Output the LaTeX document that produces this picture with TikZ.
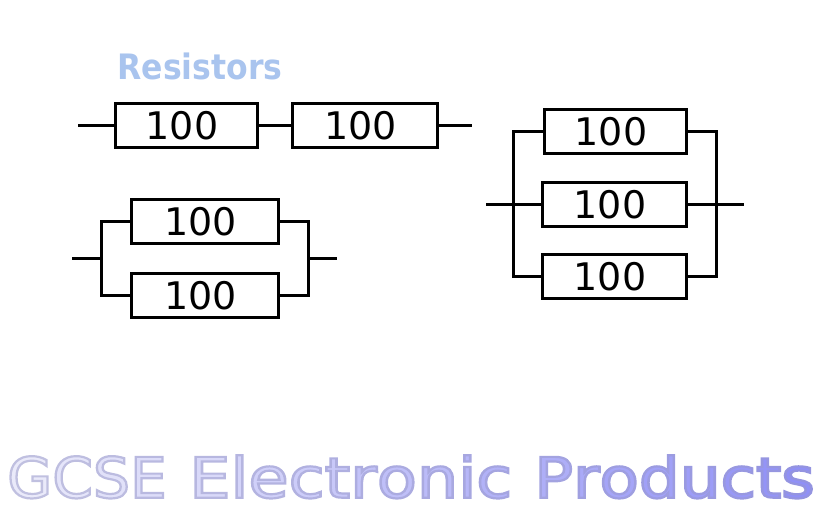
\documentclass[tikz,border=0pt]{standalone}
\usepackage{fontspec}
\setmainfont{DejaVu Sans}
\newfontfamily\condfont{DejaVu Sans Condensed}
\usetikzlibrary{positioning}
\definecolor{headblue}{HTML}{A9C4EE}
\definecolor{footpale}{HTML}{EEEEFA}
\definecolor{footdeep}{HTML}{9090F6}
% one letter of the footer: position in the line (of 22), letter
\newcommand{\footchar}[2]{%
    \pgfmathsetmacro{\footpct}{#1*100/22}%
    \pgfmathsetmacro{\footedge}{0.76-0.18*#1/22}%
    \textcolor{footdeep!\footpct!footpale}{\special{pdf:code 2 Tr 2.2 w}\special{pdf:code \footedge\space\footedge\space 0.88 RG}#2\special{pdf:code 0 Tr}}}
\tikzset{
    resistor/.style={draw=black, line width=3pt, inner sep=0pt, outer sep=0pt, minimum height=44pt, font=\fontsize{38}{38}\selectfont},
    wire/.style={draw=black, line width=3pt},
    footword/.style={inner sep=0pt, anchor=base west, font=\fontsize{56}{56}\selectfont}
}
\begin{document}
\begin{tikzpicture}[x=1pt,y=1pt]
                \useasboundingbox (0,0.7) rectangle (822,-509.3);
                \node (title) at (200,-66) {\fontsize{35}{35}\selectfont\condfont\bfseries\textcolor{headblue}{Resistors}};
                % series
                \node [resistor, minimum width=142pt] (ra) at (186,-125) {\kern-8pt 100};
                \node [resistor, minimum width=145pt] (rb) at (364.5,-125) {\kern-8pt 100};
                \coordinate (ain) at (78,-125);
                \coordinate (aout) at (472,-125);
                \draw [wire] (ain) -- (ra);
                \draw [wire] (ra) -- (rb);
                \draw [wire] (rb) -- (aout);
                % two in parallel
                \node [resistor, minimum width=147pt] (rc) at (204.5,-221) {\kern-8pt 100};
                \node [resistor, minimum width=147pt] (rd) at (204.5,-295) {\kern-8pt 100};
                \coordinate (bin) at (72,-258);
                \coordinate (bleft) at (101,-258);
                \coordinate (bright) at (308,-258);
                \coordinate (bout) at (337,-258);
                \draw [wire] (bin) -- (bleft);
                \draw [wire] (rc) -| (bleft) |- (rd);
                \draw [wire] (rc) -| (bright) |- (rd);
                \draw [wire] (bright) -- (bout);
                % three in parallel
                \node [resistor, minimum width=142pt] (re) at (615,-131) {\kern-8pt 100};
                \node [resistor, minimum width=144pt] (rf) at (614,-204) {\kern-8pt 100};
                \node [resistor, minimum width=144pt] (rg) at (614,-276) {\kern-8pt 100};
                \coordinate (cin) at (486,-204);
                \coordinate (cleft) at (513,-204);
                \coordinate (cright) at (716,-204);
                \coordinate (cout) at (744,-204);
                \draw [wire] (cin) -- (rf);
                \draw [wire] (rf) -- (cout);
                \draw [wire] (re) -| (cleft) |- (rg);
                \draw [wire] (re) -| (cright) |- (rg);
                % footer
                \node [footword] (foota) at (7,-497) {\scalebox{1.04}[1]{\foreach \ch [count=\i from 1] in {G,C,S,E}{\footchar{\i}{\ch}}}};
                \node [footword] (footb) at (189,-497) {\scalebox{1.165}[1]{\foreach \ch [count=\i from 5] in {E,l,e,c,t,r,o,n,i,c}{\footchar{\i}{\ch}}}};
                \node [footword] (footc) at (534,-497) {\scalebox{1.15}[1]{\foreach \ch [count=\i from 15] in {P,r,o,d,u,c,t,s}{\footchar{\i}{\ch}}}};
\end{tikzpicture}
\end{document}
